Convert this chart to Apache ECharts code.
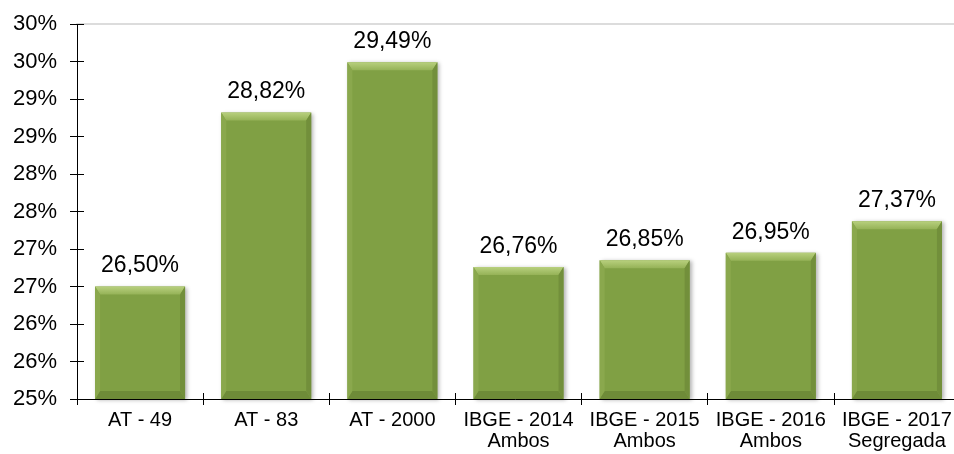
<!DOCTYPE html>
<html lang="pt">
<head>
    <meta charset="UTF-8">
    <title>Tábuas</title>
    <style>
        html, body { margin: 0; padding: 0; background: #fff; }
        #chart { width: 954px; height: 454px; }
    </style>
    <script src="https://cdn.jsdelivr.net/npm/echarts@6/dist/echarts.min.js"></script>
</head>
<body>
<div id="chart"></div>
<script>
    // dados
    var categorias = ["AT - 49", "AT - 83", "AT - 2000", "IBGE - 2014\nAmbos", "IBGE - 2015\nAmbos", "IBGE - 2016\nAmbos", "IBGE - 2017\nSegregada"];
    var valores = [26.50, 28.82, 29.49, 26.76, 26.85, 26.95, 27.37];
    var yMin = 25, yMax = 30, yPasso = 0.5;

    var fonte = "'Liberation Sans', Arial, sans-serif";
    var larguraBarra = 90;

    var dadosBisel = [];
    for (var i = 0; i < valores.length; i++) {
        dadosBisel.push([i, valores[i]]);
    }

    function poly(pts, cor) {
        return { type: "polygon", shape: { points: pts }, style: { fill: cor }, silent: true };
    }

    // bisel em volta de cada barra (topo/base 8px, lados 5px)
    function desenhaBisel(params, api) {
        var topo = api.coord([api.value(0), api.value(1)]);
        var base = api.coord([api.value(0), yMin]);
        var l = topo[0] - larguraBarra / 2, r = topo[0] + larguraBarra / 2;
        var t = topo[1], b = base[1], sv = 8, sh = 5;
        var gradTopo = new echarts.graphic.LinearGradient(0, 0, 0, 1, [
            { offset: 0, color: "#b8d07e" },
            { offset: 1, color: "#95b257" }
        ]);
        return {
            type: "group",
            children: [
                poly([[l, t], [r, t], [r - sh, t + sv], [l + sh, t + sv]], gradTopo),
                poly([[l, b], [r, b], [r - sh, b - sv], [l + sh, b - sv]], "#6e8b38"),
                poly([[l, t], [l + sh, t + sv], [l + sh, b - sv], [l, b]], "#8aa84d"),
                poly([[r, t], [r - sh, t + sv], [r - sh, b - sv], [r, b]], "#728f3b")
            ]
        };
    }

    var chart = echarts.init(document.getElementById("chart"));
    var option = {
        animation: false,
        grid: { left: 77, top: 24, width: 883, height: 375, containLabel: false, outerBoundsMode: "none" },
        xAxis: [
            {
                type: "category",
                data: categorias,
                position: "bottom",
                axisLine: { lineStyle: { color: "#000", width: 1 } },
                axisTick: { show: true, length: 6, lineStyle: { color: "#000" } },
                axisLabel: { color: "#000", fontSize: 20, fontFamily: fonte, margin: 11, lineHeight: 21, interval: 0 }
            },
            {
                type: "category",
                data: categorias,
                position: "bottom",
                axisLine: { show: false },
                axisTick: { show: true, inside: true, length: 6, lineStyle: { color: "#000" } },
                axisLabel: { show: false }
            },
            {
                type: "category",
                data: categorias,
                position: "top",
                axisLine: { show: true, lineStyle: { color: "#dcdcdc", width: 2 } },
                axisTick: { show: false },
                axisLabel: { show: false }
            }
        ],
        yAxis: [
            {
                type: "value",
                min: yMin, max: yMax, interval: yPasso,
                axisLine: { show: true, lineStyle: { color: "#000" } },
                axisTick: { show: true, length: 7, lineStyle: { color: "#000" } },
                splitLine: { show: false },
                axisLabel: {
                    color: "#000", fontSize: 22, fontFamily: fonte, margin: 20,
                    formatter: function (v) { return Math.round(v) + "%"; }
                }
            },
            {
                type: "value",
                position: "left",
                min: yMin, max: yMax, interval: yPasso,
                axisLine: { show: false },
                axisTick: { show: true, inside: true, length: 7, lineStyle: { color: "#000" } },
                splitLine: { show: false },
                axisLabel: { show: false }
            }
        ],
        series: [
            {
                type: "bar",
                data: valores,
                barWidth: larguraBarra,
                itemStyle: {
                    color: "#80a044",
                    shadowBlur: 4,
                    shadowColor: "rgba(0,0,0,0.3)",
                    shadowOffsetX: 2,
                    shadowOffsetY: 1
                },
                label: {
                    show: true,
                    position: "top",
                    distance: 9,
                    color: "#000",
                    fontSize: 23,
                    fontFamily: fonte,
                    formatter: function (p) { return p.value.toFixed(2).replace(".", ",") + "%"; }
                }
            },
            {
                type: "custom",
                data: dadosBisel,
                renderItem: desenhaBisel,
                silent: true,
                z: 3
            }
        ]
    };
    chart.setOption(option);
</script>
</body>
</html>
